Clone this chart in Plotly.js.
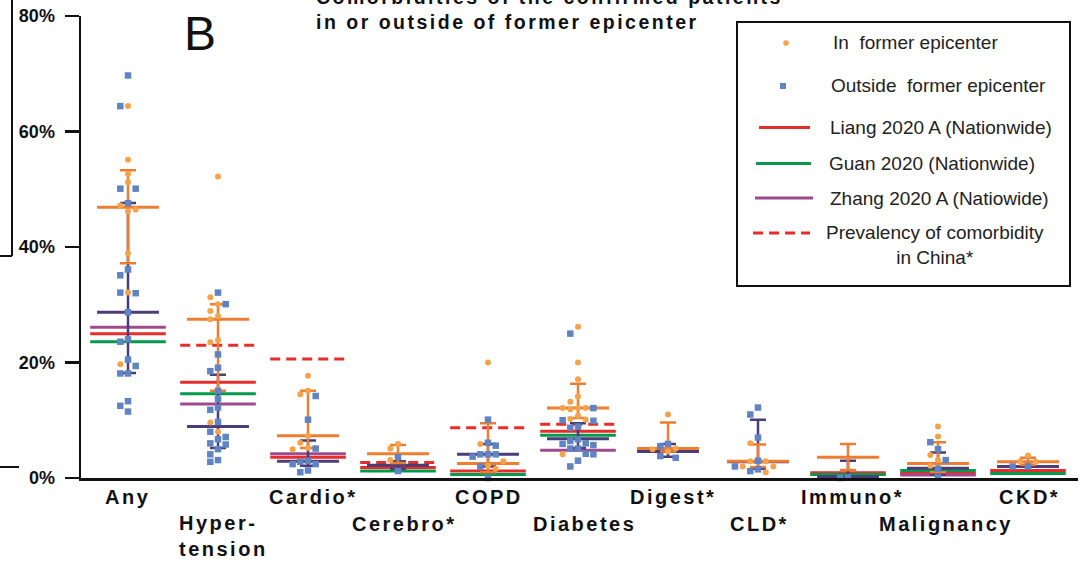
<!DOCTYPE html>
<html><head><meta charset="utf-8">
<script src="https://cdn.plot.ly/plotly-3.0.1.min.js"></script>
<style>html,body{margin:0;padding:0;background:#fff}#chart{width:1086px;height:561px}</style>
</head><body><div id="chart"></div><script>
// ---------- data ----------
const categories = ['Any','Hypertension','Cardio*','Cerebro*','COPD','Diabetes','Digest*','CLD*','Immuno*','Malignancy','CKD*'];
const tickLabels = ['Any','Hyper-<br>tension','Cardio*','Cerebro*','COPD','Diabetes','Digest*','CLD*','Immuno*','Malignancy','CKD*'];
const yTicks = [0, 20, 40, 60, 80];

// individual studies, in former epicenter (%)
const inPoints = [
  [64.4, 55.1, 52.7, 51.2, 47.2, 46.5, 46.2, 38.9, 32.1, 19.7],
  [52.2, 31.3, 30.1, 28.9, 28.0, 27.5, 23.9, 23.5, 9.6, 8.0],
  [17.7, 15.1, 14.5, 7.3, 6.1, 5.2, 5.0],
  [5.9, 5.1, 3.1],
  [20.0, 5.9, 2.9, 2.1, 1.6],
  [26.2, 20.0, 17.1, 14.1, 13.2, 12.1, 11.9, 12.1, 12.1, 10.8, 10.2, 10.1, 4.1],
  [11.0, 5.1, 5.0, 4.6],
  [6.0, 2.9, 2.9, 2.0, 2.0, 1.0],
  [],
  [8.9, 7.2, 4.0, 3.1, 2.1],
  [3.9, 2.8, 2.9]
];
// individual studies, outside former epicenter (%)
const outPoints = [
  [69.7, 64.4, 50.1, 50.1, 47.6, 36.1, 35.1, 32.0, 32.1, 28.7, 24.0, 23.6, 20.5, 19.4, 18.1, 18.1, 13.3, 12.5, 11.5],
  [32.1, 30.1, 21.4, 19.1, 18.5, 15.1, 13.7, 12.2, 11.8, 9.7, 8.0, 7.1, 6.7, 6.0, 5.8, 5.0, 4.1, 2.8, 3.1],
  [14.2, 10.1, 5.1, 3.0, 2.8, 2.4, 2.4, 1.3, 1.0],
  [3.6, 1.2],
  [10.1, 6.1, 5.6, 4.1, 4.1, 3.7, 4.1, 2.0, 0.0],
  [25.0, 12.1, 9.9, 10.0, 8.9, 8.7, 6.7, 6.4, 6.0, 5.7, 5.9, 5.1, 5.1, 4.1, 4.2, 3.0, 2.0],
  [5.9, 5.5, 3.5, 3.8],
  [12.2, 11.0, 7.0, 3.0, 2.0, 1.5, 1.2],
  [0.0, 0.1],
  [6.2, 5.0, 3.1, 1.6, 0.1],
  [2.0, 2.0]
];
// pooled estimate and interval, in former epicenter
const inMid = [46.9, 27.5, 7.3, 4.2, 2.5, 12.1, 5.1, 2.9, 3.6, 2.5, 2.8];
const inLo  = [37.2, 15.1, 5.2, 2.6, 1.0, 10.4, 4.6, 1.9, 1.4, 1.0, 2.3];
const inHi  = [53.3, 30.1, 15.1, 5.7, 9.5, 16.3, 9.6, 5.8, 5.9, 6.2, 3.5];
// pooled estimate and interval, outside former epicenter
const outMid = [28.7, 8.9, 2.9, 2.2, 4.1, 6.8, 4.6, 2.8, 0.2, 1.7, 2.0];
const outLo  = [18.2, 5.2, 2.1, 1.6, 2.0, 5.2, 3.7, 1.6, 0.0, 0.6, null];
const outHi  = [47.6, 17.9, 6.5, 2.9, 5.9, 9.5, 5.9, 10.1, 3.0, 4.4, null];
// reference studies
const liang = [25.0, 16.6, 3.6, 1.8, 1.2, 8.1, null, null, 0.9, 0.8, 1.3];
const guan  = [23.6, 14.6, null, 1.2, 0.6, 7.4, null, null, 0.6, 1.3, 0.8];
const zhang = [26.1, 12.8, 4.2, null, null, 4.8, null, null, null, 0.5, null];
const prevalency = [null, 23.0, 20.6, 2.7, 8.7, 9.3, null, null, null, null, null];

const legendLabels = ['In  former epicenter', 'Outside  former epicenter', 'Liang 2020 A (Nationwide)',
  'Guan 2020 (Nationwide)', 'Zhang 2020 A (Natiowide)', 'Prevalency of comorbidity<br>in China*'];
const titleText = 'Comorbidities of the confirmed patients<br>in or outside of former epicenter';
const panelLetter = 'B';

// ---------- style ----------
const C = {
  inPt: '#f5a34b', inLine: '#ee7d31', outPt: '#5f83c3', outLine: '#4a3d7a',
  liang: '#e52d2b', guan: '#05994c', zhang: '#a04a8e'
};
const FONT = 'Liberation Sans, Arial, sans-serif';
const L = 81, T = 16, W = 997, H = 462;
const px2x = p => (p - L) / W;
const py2y = p => (T + H - p) / H;
const PXPCT = H / 80, STEP = 0.0855, MIND = 7;
const REF_HALF = 0.42, MEAN_HALF = 0.344;

function segs(vals, half) {
  const x = [], y = [];
  vals.forEach((v, i) => { if (v == null) return; x.push(i - half, i + half, null); y.push(v, v, null); });
  return {x, y};
}
function swarm(i) {
  const pts = inPoints[i].map(v => ({v, g: 'in'})).concat(outPoints[i].map(v => ({v, g: 'out'})));
  pts.sort((a, b) => b.v - a.v);
  const placed = [];
  pts.forEach(p => {
    for (let k = 0; k < 30; k++) {
      const off = k === 0 ? 0 : (k % 2 ? -Math.ceil(k / 2) : k / 2);
      if (!placed.some(q => q.off === off && Math.abs(q.v - p.v) * PXPCT < MIND)) { p.off = off; placed.push(p); break; }
    }
  });
  return pts;
}

const traces = [];
function refTrace(vals, color, dash) {
  const s = segs(vals, REF_HALF);
  traces.push({type: 'scatter', mode: 'lines', x: s.x, y: s.y, line: {color, width: 3, dash: dash || 'solid'},
    hoverinfo: 'skip', showlegend: false, cliponaxis: false});
}
refTrace(liang, C.liang);
refTrace(guan, C.guan);
refTrace(zhang, C.zhang);
refTrace(prevalency, C.liang, '10px,6px');

function groupTraces(mid, lo, hi, color) {
  const idx = categories.map((c, i) => i);
  traces.push({type: 'scatter', mode: 'markers', x: idx, y: mid,
    marker: {size: 1, color: 'rgba(0,0,0,0)'},
    error_y: {type: 'data', symmetric: false,
      array: mid.map((m, i) => hi[i] == null ? null : hi[i] - m),
      arrayminus: mid.map((m, i) => lo[i] == null ? null : m - lo[i]),
      width: 8, thickness: 2.5, color},
    hoverinfo: 'skip', showlegend: false, cliponaxis: false});
  const s = segs(mid, MEAN_HALF);
  traces.push({type: 'scatter', mode: 'lines', x: s.x, y: s.y, line: {color, width: 3},
    hoverinfo: 'skip', showlegend: false, cliponaxis: false});
}
groupTraces(outMid, outLo, outHi, C.outLine);
groupTraces(inMid, inLo, inHi, C.inLine);

const ox = [], oy = [], ix = [], iy = [];
categories.forEach((c, i) => {
  swarm(i).forEach(p => {
    const x = i + p.off * STEP;
    if (p.g === 'in') { ix.push(x); iy.push(p.v); } else { ox.push(x); oy.push(p.v); }
  });
});
traces.push({type: 'scatter', mode: 'markers', x: ox, y: oy, name: 'Outside former epicenter',
  marker: {symbol: 'square', size: 6.5, color: C.outPt}, showlegend: false, cliponaxis: false});
traces.push({type: 'scatter', mode: 'markers', x: ix, y: iy, name: 'In former epicenter',
  marker: {symbol: 'circle', size: 6, color: C.inPt}, showlegend: false, cliponaxis: false});

// ---------- annotations ----------
const annotations = [];
const spaced = [];
function ann(o, space) { if (space) spaced.push(annotations.length); annotations.push(o); }

tickLabels.forEach((t, i) => {
  const row = i % 2;
  const twoLines = t.indexOf('<br>') >= 0;
  const cy = row === 0 ? 497.5 : (twoLines ? 536 : 523.5);
  ann({xref: 'x', yref: 'paper', x: i, xshift: -4,
    y: py2y(cy), yanchor: 'middle', xanchor: 'center', align: 'left',
    text: t, showarrow: false, font: {family: FONT, size: 20, color: '#111', weight: 700}}, true);
});
ann({xref: 'paper', yref: 'paper', x: px2x(314), y: py2y(9), xanchor: 'left', yanchor: 'middle', align: 'left',
  text: titleText, showarrow: false, font: {family: FONT, size: 19.5, color: '#111', weight: 700}}, true);
ann({xref: 'paper', yref: 'paper', x: px2x(200), y: py2y(33), xanchor: 'center', yanchor: 'middle',
  text: panelLetter, showarrow: false, font: {family: FONT, size: 48, color: '#111'}});

const legY = [43, 85.5, 127.5, 163.5, 198.5, 245];
const legX = [831, 829, 828, 827, 828, 824];
legendLabels.forEach((t, k) => {
  ann({xref: 'paper', yref: 'paper', x: px2x(legX[k]), y: py2y(legY[k]), xanchor: 'left', yanchor: 'middle',
    align: 'center', text: t, showarrow: false, font: {family: FONT, size: 19, color: '#222'}});
});

// ---------- shapes (legend frame, symbols, panel A remnants) ----------
const P = (o) => Object.assign({xref: 'paper', yref: 'paper'}, o);
const hline = (x0, x1, y, color, width, dash) => P({type: 'line', x0: px2x(x0), x1: px2x(x1), y0: py2y(y), y1: py2y(y),
  line: {color, width, dash: dash || 'solid'}});
const shapes = [
  P({type: 'rect', x0: px2x(737), x1: px2x(1070), y0: py2y(22), y1: py2y(286), fillcolor: '#fff', line: {color: '#111', width: 2}}),
  P({type: 'circle', xsizemode: 'pixel', ysizemode: 'pixel', xanchor: px2x(786), yanchor: py2y(43),
    x0: -2.8, x1: 2.8, y0: -2.8, y1: 2.8, fillcolor: C.inPt, line: {width: 0}}),
  P({type: 'rect', xsizemode: 'pixel', ysizemode: 'pixel', xanchor: px2x(783), yanchor: py2y(86),
    x0: -3, x1: 3, y0: -3, y1: 3, fillcolor: C.outPt, line: {width: 0}}),
  hline(759, 810, 127.5, C.liang, 3),
  hline(756, 811, 163.5, C.guan, 3),
  hline(755, 813, 198, C.zhang, 3),
  hline(753, 810, 233, C.liang, 3, '10px,6px'),
  P({type: 'line', x0: px2x(12), x1: px2x(12), y0: py2y(-2), y1: py2y(256), line: {color: '#111', width: 2}}),
  hline(0, 12, 256, '#111', 2),
  hline(0, 19, 467, '#111', 2)
];

const layout = {
  width: 1086, height: 561,
  margin: {l: L, r: 1086 - L - W, t: T, b: 561 - T - H},
  paper_bgcolor: '#fff', plot_bgcolor: '#fff',
  showlegend: false,
  font: {family: FONT, color: '#111'},
  xaxis: {range: [-(128 - L) / 90, -(128 - L) / 90 + W / 90], showgrid: false, zeroline: false,
    showline: true, linewidth: 3, linecolor: '#111', showticklabels: false, ticks: '', fixedrange: true},
  yaxis: {range: [0, 80], tickvals: yTicks, ticktext: yTicks.map(v => v + '%'), showgrid: false, zeroline: false,
    showline: true, linewidth: 2.5, linecolor: '#111', ticks: 'outside', ticklen: 14, tickwidth: 2.5, tickcolor: '#111',
    ticklabelstandoff: 6, tickfont: {family: FONT, size: 18, color: '#111', weight: 700}, fixedrange: true},
  annotations, shapes
};

Plotly.newPlot('chart', traces, layout, {displayModeBar: false, staticPlot: true}).then(() => {
  spaced.forEach(k => {
    document.querySelectorAll('.annotation[data-index="' + k + '"] text.annotation-text').forEach(el => {
      el.style.letterSpacing = '2.5px';
    });
  });
});
</script></body></html>
